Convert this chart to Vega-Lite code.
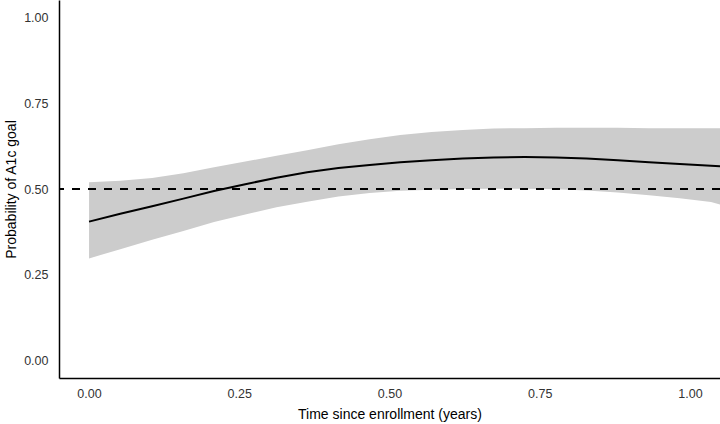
{
  "$schema": "https://vega.github.io/schema/vega-lite/v6.json",
  "autosize": "none",
  "width": 661,
  "height": 378,
  "padding": {"left": 59, "top": 0, "right": 0, "bottom": 46},
  "background": "white",
  "config": {
    "view": {"stroke": null},
    "font": "Liberation Sans",
    "axis": {
      "domainColor": "black",
      "domainWidth": 1.5,
      "ticks": false,
      "grid": false,
      "labelFont": "Liberation Sans",
      "labelFontSize": 12.5,
      "labelColor": "#333333",
      "titleFont": "Liberation Sans",
      "titleFontSize": 14,
      "titleFontWeight": "normal",
      "titleColor": "black"
    }
  },
  "data": {
    "values": [
      {"t": 0.000, "est": 0.405, "lo": 0.298, "hi": 0.520},
      {"t": 0.052, "est": 0.428, "lo": 0.325, "hi": 0.524},
      {"t": 0.105, "est": 0.450, "lo": 0.352, "hi": 0.532},
      {"t": 0.157, "est": 0.472, "lo": 0.378, "hi": 0.546},
      {"t": 0.208, "est": 0.494, "lo": 0.404, "hi": 0.563},
      {"t": 0.260, "est": 0.514, "lo": 0.426, "hi": 0.580},
      {"t": 0.312, "est": 0.533, "lo": 0.447, "hi": 0.597},
      {"t": 0.363, "est": 0.549, "lo": 0.463, "hi": 0.613},
      {"t": 0.415, "est": 0.561, "lo": 0.478, "hi": 0.630},
      {"t": 0.467, "est": 0.570, "lo": 0.488, "hi": 0.645},
      {"t": 0.518, "est": 0.578, "lo": 0.495, "hi": 0.657},
      {"t": 0.570, "est": 0.584, "lo": 0.498, "hi": 0.666},
      {"t": 0.622, "est": 0.589, "lo": 0.500, "hi": 0.672},
      {"t": 0.673, "est": 0.592, "lo": 0.501, "hi": 0.676},
      {"t": 0.725, "est": 0.593, "lo": 0.501, "hi": 0.677},
      {"t": 0.777, "est": 0.592, "lo": 0.499, "hi": 0.678},
      {"t": 0.828, "est": 0.589, "lo": 0.496, "hi": 0.678},
      {"t": 0.880, "est": 0.584, "lo": 0.490, "hi": 0.678},
      {"t": 0.932, "est": 0.578, "lo": 0.482, "hi": 0.677},
      {"t": 0.983, "est": 0.573, "lo": 0.473, "hi": 0.677},
      {"t": 1.035, "est": 0.568, "lo": 0.462, "hi": 0.677},
      {"t": 1.050, "est": 0.566, "lo": 0.455, "hi": 0.677}
    ]
  },
  "layer": [
    {
      "mark": {"type": "area", "color": "#cccccc", "opacity": 1},
      "encoding": {
        "x": {
          "field": "t", "type": "quantitative",
          "scale": {"domain": [-0.05, 1.05], "nice": false, "zero": false},
          "axis": {"values": [0, 0.25, 0.5, 0.75, 1], "format": ".2f", "title": "Time since enrollment (years)", "labelPadding": 9, "titlePadding": 8}
        },
        "y": {
          "field": "lo", "type": "quantitative",
          "scale": {"domain": [-0.05, 1.05], "nice": false, "zero": false},
          "axis": {"values": [0, 0.25, 0.5, 0.75, 1], "format": ".2f", "title": "Probability of A1c goal", "labelPadding": 11, "titlePadding": 5}
        },
        "y2": {"field": "hi"}
      }
    },
    {
      "mark": {"type": "rule", "color": "black", "strokeWidth": 1.6, "strokeDash": [8, 8]},
      "encoding": {"y": {"datum": 0.5}}
    },
    {
      "mark": {"type": "line", "color": "black", "strokeWidth": 2},
      "encoding": {
        "x": {"field": "t", "type": "quantitative"},
        "y": {"field": "est", "type": "quantitative"}
      }
    }
  ]
}
